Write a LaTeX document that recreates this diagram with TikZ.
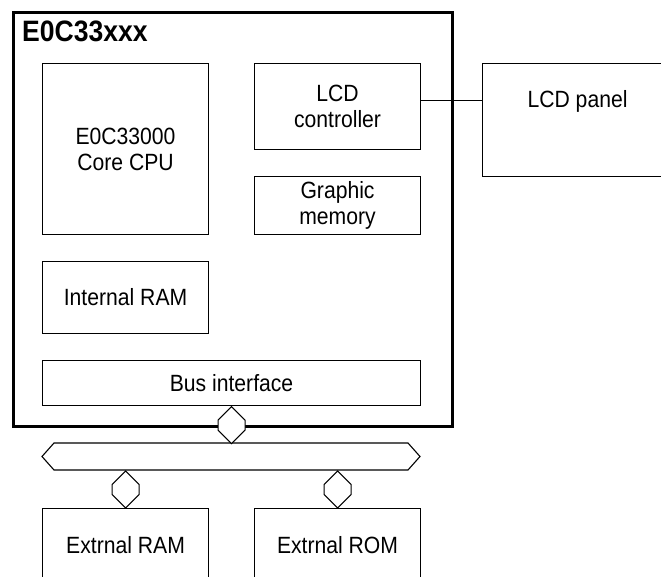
\documentclass[tikz,border=0pt]{standalone}
\usepackage{fontspec}
\setmainfont{Liberation Sans}[FakeStretch=0.9]
\begin{document}
\begin{tikzpicture}[x=1pt,y=-1pt,
  txt/.style={font=\fontsize{23.5}{26}\selectfont, align=center},
  blk/.style={txt, draw, line width=1.1pt, anchor=north west, inner sep=0pt},
  chipbox/.style={draw, line width=2.6pt, anchor=north west, inner sep=0pt},
  wire/.style={line width=1.1pt},
  hexlink/.pic={\draw[wire, fill=white] (0,-18.5) -- (13.5,-5) -- (13.5,5) -- (0,18.5) -- (-13.5,5) -- (-13.5,-5) -- cycle;}]
\useasboundingbox (0,0) rectangle (661,576);
\clip (0,0) rectangle (661,576);
% chip
\node[chipbox, minimum width=439pt, minimum height=414pt] (chip) at (12,11) {};
\node[font=\bfseries\fontsize{29.5}{32}\selectfont, anchor=base west, inner sep=0pt] (title) at (22,41) {E0C33xxx};
\node[blk, minimum width=166pt, minimum height=171pt] (cpu) at (42,63) {E0C33000\\Core CPU};
\node[blk, minimum width=166pt, minimum height=86pt] (ctrl) at (254,63) {LCD\\controller};
\node[blk, minimum width=166pt, minimum height=58pt] (gmem) at (254,176) {Graphic\\memory};
\node[blk, minimum width=166pt, minimum height=72pt] (iram) at (42,261) {Internal RAM};
\node[blk, minimum width=378pt, minimum height=45pt] (busif) at (42,360) {Bus interface};
% LCD panel
\node[draw, line width=1.1pt, anchor=north west, inner sep=0pt, minimum width=190pt, minimum height=113pt] (panel) at (482,63) {};
\node[txt] (panellbl) at ([yshift=-38pt]panel.north) {LCD panel};
\draw[wire] ([yshift=6pt]ctrl.east) -- ([yshift=6pt]ctrl.east -| panel.west);
% external bus
\coordinate (busL) at (42,456.5);
\coordinate (busR) at (420,456.5);
\draw[wire] (busL) -- ++(12,-13.5) -- ([xshift=-12pt,yshift=13.5pt]busR) -- (busR) -- ([xshift=-12pt,yshift=-13.5pt]busR) -- ([xshift=12pt,yshift=-13.5pt]busL) -- cycle;
% external memories
\node[blk, minimum width=166pt, minimum height=74pt] (xram) at (42,508) {Extrnal RAM};
\node[blk, minimum width=166pt, minimum height=74pt] (xrom) at (254,508) {Extrnal ROM};
% bus links
\pic at ([yshift=-19pt]busif.south) {hexlink};
\pic at ([yshift=18.5pt]xram.north) {hexlink};
\pic at ([yshift=18.5pt]xrom.north) {hexlink};
\end{tikzpicture}
\end{document}
